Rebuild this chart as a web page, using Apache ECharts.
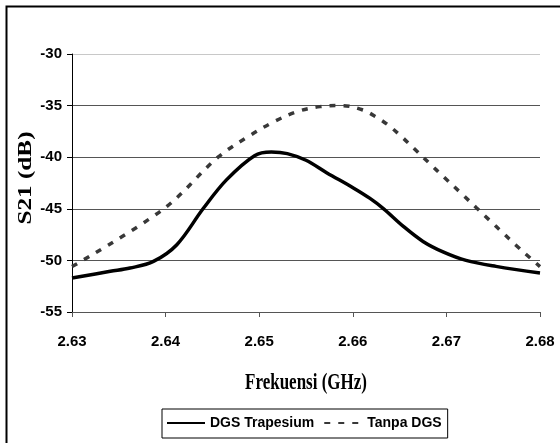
<!DOCTYPE html>
<html>
<head>
<meta charset="utf-8">
<script src="https://cdn.jsdelivr.net/npm/echarts@6/dist/echarts.min.js"></script>
<style>
html,body{margin:0;padding:0;background:#fff;}
#chart{width:560px;height:443px;}
</style>
</head>
<body>
<div id="chart"></div>
<script>
// Data
var xTitle = 'Frekuensi (GHz)';
var yTitle = 'S21 (dB)';
var seriesNames = ['DGS Trapesium', 'Tanpa DGS'];
var xTicks = [2.63, 2.64, 2.65, 2.66, 2.67, 2.68];
var yTicks = [-55, -50, -45, -40, -35, -30];

var freqTrapesium = [2.630, 2.6341, 2.6362, 2.6387, 2.6412, 2.6440, 2.6465, 2.6495, 2.6513, 2.6530, 2.6550, 2.6572, 2.6601, 2.6618, 2.6633, 2.6654, 2.6675, 2.6697, 2.6721, 2.6753, 2.680];
var s21Trapesium  = [-51.7, -51.06, -50.74, -50.1, -48.48, -45.0, -42.2, -39.85, -39.5, -39.65, -40.3, -41.5, -43.0, -43.97, -45.0, -46.7, -48.16, -49.2, -50.0, -50.58, -51.22];

var freqTanpa = [2.630, 2.6398, 2.6456, 2.6490, 2.6515, 2.6540, 2.6565, 2.6588, 2.6610, 2.6625, 2.6638, 2.6652, 2.6666, 2.6682, 2.6697, 2.6717, 2.6732, 2.6746, 2.6760, 2.6774, 2.6790, 2.680];
var s21Tanpa  = [-50.6, -45.0, -40.0, -37.9, -36.6, -35.6, -35.1, -35.0, -35.4, -36.1, -36.9, -38.0, -39.2, -40.6, -41.9, -43.6, -44.9, -46.1, -47.3, -48.5, -49.8, -50.6];

function pairs(xs, ys) {
  var out = [];
  for (var i = 0; i < xs.length; i++) out.push([xs[i], ys[i]]);
  return out;
}

var sans = "'Liberation Sans', Arial, sans-serif";
var serif = "'Liberation Serif', 'Times New Roman', serif";

var chart = echarts.init(document.getElementById('chart'), null, {renderer: 'canvas'});
var option = {
  animation: false,
  backgroundColor: '#fff',
  grid: {left: 72, right: 20, top: 54, bottom: 131, containLabel: false},
  xAxis: {
    type: 'value',
    min: xTicks[0],
    max: xTicks[xTicks.length - 1],
    interval: 0.01,
    axisLine: {show: true, onZero: false, lineStyle: {color: '#555', width: 1}},
    axisTick: {show: true, length: 5, lineStyle: {color: '#555'}},
    splitLine: {show: false},
    axisLabel: {
      margin: 22,
      color: '#000',
      fontFamily: sans,
      fontWeight: 'bold',
      fontSize: 15,
      formatter: function (v) { return v.toFixed(2); }
    }
  },
  yAxis: {
    type: 'value',
    min: yTicks[0],
    max: yTicks[yTicks.length - 1],
    interval: 5,
    axisLine: {show: true, onZero: false, lineStyle: {color: '#000', width: 1}},
    axisTick: {show: true, length: 5, lineStyle: {color: '#000'}},
    splitLine: {show: true, lineStyle: {color: ['#555', '#555', '#555', '#555', '#555', '#c8c8c8'], width: 1}},
    axisLabel: {
      margin: 10,
      color: '#000',
      fontFamily: sans,
      fontWeight: 'bold',
      fontSize: 15
    }
  },
  legend: {
    left: 162,
    top: 409,
    orient: 'horizontal',
    itemWidth: 38,
    itemHeight: 12,
    itemGap: 9,
    padding: [7, 6, 8, 4],
    borderColor: '#000',
    borderWidth: 1,
    itemStyle: {opacity: 0},
    textStyle: {color: '#000', fontFamily: sans, fontWeight: 'bold', fontSize: 14},
    data: seriesNames
  },
  graphic: [
    {
      type: 'rect', silent: true, z: -1,
      shape: {x: 6.5, y: 6.5, width: 600, height: 500},
      style: {fill: 'none', stroke: '#000', lineWidth: 2}
    },
    {
      type: 'text', x: 306, y: 383, scaleY: 1.4,
      style: {text: xTitle, font: 'bold 17px ' + serif, fill: '#000',
              textAlign: 'center', textVerticalAlign: 'middle', align: 'center', verticalAlign: 'middle'}
    },
    {
      type: 'text', x: 26, y: 178, scaleX: 1.4, rotation: Math.PI / 2,
      style: {text: yTitle, font: 'bold 18px ' + serif, fill: '#000',
              textAlign: 'center', textVerticalAlign: 'middle', align: 'center', verticalAlign: 'middle'}
    }
  ],
  series: [
    {
      name: seriesNames[0],
      type: 'line',
      smooth: 0.35,
      symbol: 'none',
      lineStyle: {color: '#000', width: 3.5, type: 'solid'},
      itemStyle: {color: '#000'},
      data: pairs(freqTrapesium, s21Trapesium),
      z: 3
    },
    {
      name: seriesNames[1],
      type: 'line',
      smooth: 0.35,
      symbol: 'none',
      lineStyle: {color: '#383838', width: 3.5, type: [6, 8]},
      itemStyle: {color: '#383838'},
      data: pairs(freqTanpa, s21Tanpa),
      z: 2
    }
  ]
};
chart.setOption(option);
</script>
</body>
</html>
